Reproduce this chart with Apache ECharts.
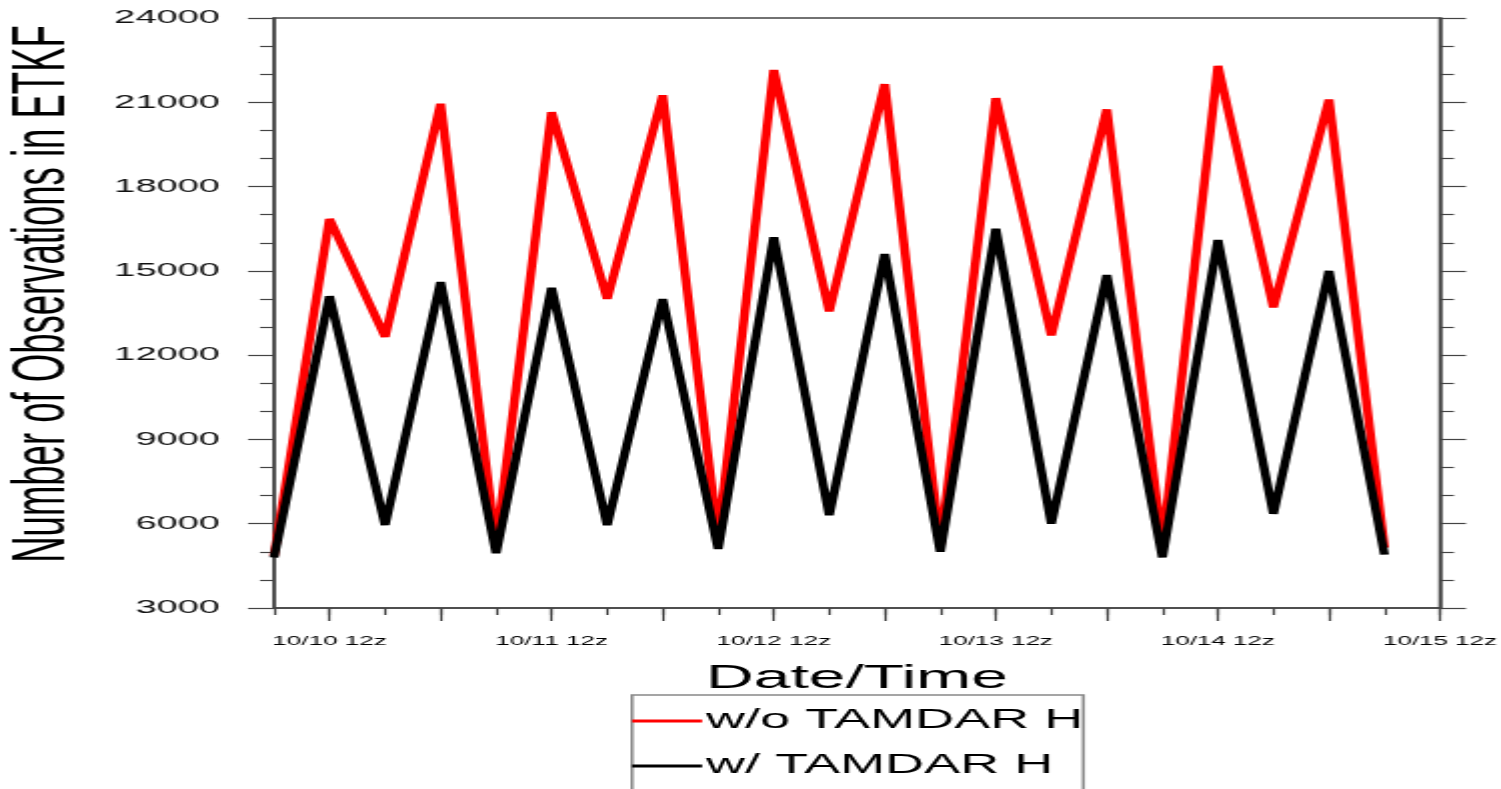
<!DOCTYPE html>
<html>
<head>
<meta charset="utf-8">
<script src="https://cdn.jsdelivr.net/npm/echarts@6/dist/echarts.min.js"></script>
<style>
html, body { margin: 0; padding: 0; overflow: hidden; background: #fff; }
#chart { width: 750px; height: 789px; transform: scaleX(2.001333); transform-origin: 0 0; }
</style>
</head>
<body>
<div id="chart"></div>
<script>
// Time steps (6-hourly), tick labels shown only at 12z
const categories = ['10/10 06z','10/10 12z','10/10 18z','10/11 00z','10/11 06z','10/11 12z','10/11 18z',
  '10/12 00z','10/12 06z','10/12 12z','10/12 18z','10/13 00z','10/13 06z','10/13 12z','10/13 18z',
  '10/14 00z','10/14 06z','10/14 12z','10/14 18z','10/15 00z','10/15 06z','10/15 12z'];
const seriesNames = ['w/o TAMDAR H', 'w/ TAMDAR H'];
const withoutTamdar = [4850, 16850, 12650, 20950, 5250, 20650, 14000, 21250, 5550, 22150, 13550,
  21650, 5250, 21150, 12700, 20750, 5250, 22300, 13700, 21100, 5150];
const withTamdar = [4800, 14100, 5950, 14600, 4950, 14400, 5950, 14000, 5100, 16200, 6300,
  15600, 5000, 16500, 6000, 14850, 4800, 16100, 6350, 15000, 4900];
const yMin = 3000, yMax = 24000, yStep = 3000;

const FONT = '"Liberation Sans", Arial, Helvetica, sans-serif';
const AX = '#444';
const chart = echarts.init(document.getElementById('chart'));

const isMajor = (i, v) => /(00z|12z)$/.test(v);
const isLabel = (i, v) => /12z$/.test(v);

const yCommon = {
  type: 'value', min: yMin, max: yMax, interval: yStep,
  splitLine: { show: false },
  axisLine: { show: true, lineStyle: { color: AX, width: 1.5 } },
  axisTick: { show: true, length: 13, lineStyle: { color: AX, width: 1.2 } },
  minorTick: { show: true, splitNumber: 3, length: 7, lineStyle: { color: AX, width: 1.2 } }
};

chart.setOption({
  animation: false,
  backgroundColor: '#fff',
  grid: { left: 136.9, right: 30.5, top: 18, bottom: 181, containLabel: false, outerBoundsMode: 'none',
          show: true, borderColor: AX, borderWidth: 1.5 },
  xAxis: [
    {
      type: 'category', data: categories, boundaryGap: false, position: 'bottom',
      name: 'Date/Time', nameLocation: 'middle', nameGap: 54,
      nameTextStyle: { fontSize: 33, fontFamily: FONT, color: '#000' },
      axisLine: { show: true, lineStyle: { color: AX, width: 1.5 } },
      axisTick: { show: true, interval: isMajor, length: 13, lineStyle: { color: AX, width: 1.2 } },
      axisLabel: { show: true, interval: isLabel, margin: 27, fontSize: 13, fontFamily: FONT, color: '#000' },
      splitLine: { show: false }
    },
    {
      type: 'category', data: categories, boundaryGap: false, position: 'bottom',
      axisLine: { show: false },
      axisTick: { show: true, interval: 0, length: 7, lineStyle: { color: AX, width: 1.2 } },
      axisLabel: { show: false },
      splitLine: { show: false }
    }
  ],
  yAxis: [
    Object.assign({}, yCommon, {
      position: 'left',
      name: 'Number of Observations in ETKF', nameLocation: 'middle', nameGap: 96.5,
      nameTextStyle: { fontSize: 36.5, fontFamily: FONT, color: '#000', padding: [0, 0, 0, 38] },
      axisLabel: { show: true, margin: 27, fontSize: 19, fontFamily: FONT, color: '#111',
                   formatter: v => String(v) }
    }),
    Object.assign({}, yCommon, {
      position: 'right',
      axisLabel: { show: false }
    })
  ],
  legend: {
    orient: 'vertical', left: 315.8, top: 695, height: 120,
    padding: [11, 0, 30, 0],
    itemWidth: 35, itemHeight: 3, itemGap: 15,
    borderColor: '#888', borderWidth: 1.5,
    icon: 'rect',
    textStyle: { fontSize: 27, fontFamily: FONT, color: '#000', lineHeight: 30, padding: [0, 0, 0, -3] },
    data: seriesNames
  },
  series: [
    {
      name: seriesNames[0], type: 'line', data: withoutTamdar, symbol: 'none',
      xAxisIndex: 0, yAxisIndex: 0,
      lineStyle: { color: '#ff0000', width: 4.5 }, itemStyle: { color: '#ff0000' }
    },
    {
      name: seriesNames[1], type: 'line', data: withTamdar, symbol: 'none',
      xAxisIndex: 0, yAxisIndex: 0,
      lineStyle: { color: '#000000', width: 4.5 }, itemStyle: { color: '#000000' }
    }
  ]
});
</script>
</body>
</html>
